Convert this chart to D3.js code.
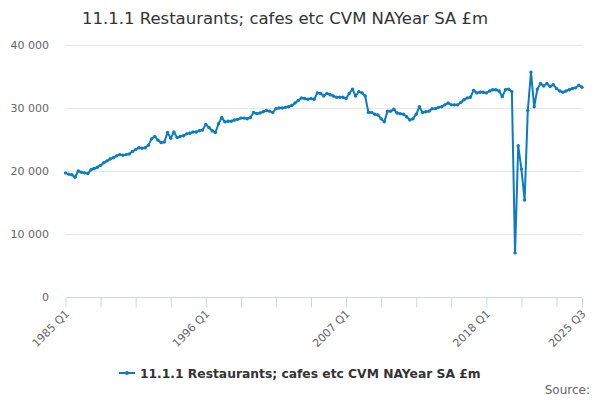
<!DOCTYPE html>
<html>
<head>
<meta charset="utf-8">
<script src="https://cdn.jsdelivr.net/npm/d3@7"></script>
<style>
  body { margin: 0; background: #fff; }
  svg { font-family: "DejaVu Sans", sans-serif; }
</style>
</head>
<body>
<svg id="chart" width="600" height="400"></svg>
<script>
const title = "11.1.1 Restaurants; cafes etc CVM NAYear SA £m";
const seriesName = "11.1.1 Restaurants; cafes etc CVM NAYear SA £m";
const startYear = 1985;
const labelledQuarters = ["1985 Q1", "1996 Q1", "2007 Q1", "2018 Q1", "2025 Q3"];
const yTicks = [0, 10000, 20000, 30000, 40000];
const values = [
  19700, 19500, 19400, 19000, 20000, 19800, 19700, 19600, 20200, 20400,
  20600, 20900, 21300, 21600, 21900, 22100, 22400, 22600, 22500, 22600,
  22700, 23100, 23400, 23700, 23600, 23700, 24100, 25100, 25500, 24900,
  24500, 24600, 26100, 25200, 26200, 25300, 25500, 25600, 25900, 26000,
  26200, 26200, 26400, 26500, 27400, 26900, 26400, 26100, 27500, 28500,
  27800, 27900, 27900, 28100, 28200, 28400, 28400, 28300, 28500, 29300,
  29100, 29200, 29400, 29600, 29500, 29300, 29900, 30000, 30000, 30100,
  30200, 30400, 30800, 31200, 31600, 31500, 31400, 31500, 31400, 32400,
  32300, 31900, 32300, 32100, 31900, 31700, 31700, 31700, 31500, 32300,
  33000, 31900, 32600, 32400, 31900, 29300, 29300, 29000, 28900, 28300,
  27800, 29500, 29500, 29800, 29200, 29100, 29000, 28600, 28100, 28300,
  29000, 30200, 29300, 29400, 29500, 29900, 29900, 30100, 30200, 30500,
  30800, 30500, 30500, 30500, 30900, 31300, 31600, 31700, 32800, 32400,
  32500, 32500, 32400, 32700, 32900, 32900, 32700, 31800, 32900, 33000,
  32600, 7000, 24000, 20300, 15400, 29600, 35700, 30200, 33000, 33900,
  33500, 33900, 33400, 33700, 33100, 32700, 32500, 32700, 32900, 33100,
  33200, 33600, 33300
];
const categories = values.map((v, i) => `${startYear + Math.floor(i / 4)} Q${(i % 4) + 1}`);

const color = "#0b7cc1";
const svg = d3.select("#chart");
const margin = { left: 65.5, right: 18, top: 45, bottom: 103 };
const W = 600, H = 400;
const x = d3.scalePoint().domain(categories).range([margin.left, W - margin.right]);
const y = d3.scaleLinear().domain([0, 40000]).range([H - margin.bottom, margin.top]);

// title
svg.append("text").attr("x", 285).attr("y", 24).attr("text-anchor", "middle")
  .attr("font-size", 16.5).attr("fill", "#333").text(title);

// gridlines
svg.append("g").selectAll("line").data(yTicks.filter(d => d > 0)).join("line")
  .attr("x1", margin.left).attr("x2", W - margin.right + 0.5)
  .attr("y1", d => Math.round(y(d)) + 0.5).attr("y2", d => Math.round(y(d)) + 0.5)
  .attr("stroke", "#e6e6e6");

// y labels
const fmt = d => d3.format(",")(d).replace(/,/g, " ");
svg.append("g").selectAll("text").data(yTicks).join("text")
  .attr("x", 49).attr("y", d => y(d) + 4).attr("text-anchor", "end")
  .attr("font-size", 11).attr("fill", "#666").text(fmt);

// x axis
const tickCats = categories.filter((c, i) => i % 11 === 0 || i === categories.length - 1);
const xAxis = d3.axisBottom(x).tickValues(tickCats).tickSize(10).tickFormat(d => labelledQuarters.includes(d) ? d : "");
const gx = svg.append("g").attr("transform", `translate(0,${Math.round(y(0)) + 0.5})`).call(xAxis);
gx.select(".domain").attr("stroke", "#ccd6eb").attr("d", `M${margin.left},0H${W - margin.right}`);
gx.selectAll(".tick line").attr("stroke", "#ccd6eb");
gx.selectAll(".tick text")
  .attr("font-size", 11).attr("fill", "#666").attr("font-family", "DejaVu Sans, sans-serif")
  .attr("text-anchor", "end").attr("dy", 0).attr("y", 0)
  .attr("transform", "translate(4,17) rotate(-45)");

// line
const line = d3.line().x((d, i) => x(categories[i])).y(d => y(d));
svg.append("path").datum(values).attr("d", line)
  .attr("fill", "none").attr("stroke", color).attr("stroke-width", 2).attr("stroke-linejoin", "round");
svg.append("g").selectAll("circle").data(values).join("circle")
  .attr("cx", (d, i) => x(categories[i])).attr("cy", d => y(d)).attr("r", 1.7).attr("fill", color);

// legend
const lg = svg.append("g").attr("transform", "translate(119,373)");
lg.append("line").attr("x1", 0).attr("x2", 16).attr("y1", 0).attr("y2", 0).attr("stroke", color).attr("stroke-width", 2);
lg.append("circle").attr("cx", 8).attr("cy", 0).attr("r", 2).attr("fill", color);
lg.append("text").attr("x", 21).attr("y", 4.5).attr("font-size", 12.3).attr("font-weight", "bold")
  .attr("fill", "#333").text(seriesName);

// source
svg.append("text").attr("x", 590).attr("y", 394).attr("text-anchor", "end")
  .attr("font-size", 12).attr("fill", "#666").text("Source:");
</script>
</body>
</html>
